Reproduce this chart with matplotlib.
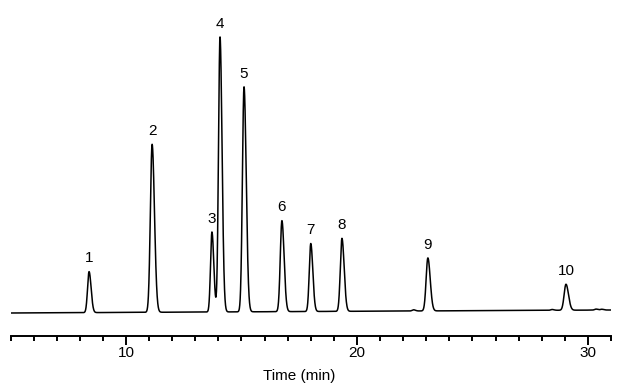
import numpy as np
import matplotlib
matplotlib.use("Agg")
import matplotlib.pyplot as plt

plt.rcParams["font.family"] = ["Liberation Sans", "DejaVu Sans"]

# ── Picos del cromatograma (tiempo en min, altura en unidades relativas) ──
etiquetas = ["1", "2", "3", "4", "5", "6", "7", "8", "9", "10"]
tiempos = [8.40, 11.13, 13.72, 14.07, 15.11, 16.75, 18.00, 19.35, 23.07, 29.05]
alturas = [41, 168, 80, 275, 225, 91, 68, 73, 53, 26]
anchos = [0.065, 0.075, 0.06, 0.065, 0.07, 0.07, 0.065, 0.07, 0.075, 0.08]

# pequeñas perturbaciones de la línea base
ruido_t = [22.45, 28.45, 30.35, 30.6]
ruido_h = [1.2, 0.8, 1.0, 0.8]
deriva = 3.0  # subida total de la línea base entre 5 y 31 min

t = np.linspace(5, 31, 6000)


def pico(t, t0, h, s, cola=1.35):
    sd = np.where(t < t0, s, s * cola)
    return h * np.exp(-0.5 * ((t - t0) / sd) ** 2)


senal = deriva * (t - 5) / 26
for t0, h, s in zip(tiempos, alturas, anchos):
    senal = senal + pico(t, t0, h, s)
for t0, h in zip(ruido_t, ruido_h):
    senal = senal + pico(t, t0, h, 0.06)

fig = plt.figure(figsize=(6.2, 3.84), dpi=100)
ax = fig.add_axes([0.017, 0.125, 0.9685, 0.875])
ax.plot(t, senal, color="black", lw=1.1)

for lab, t0, h in zip(etiquetas, tiempos, alturas):
    ax.annotate(lab, (t0, h + deriva * (t0 - 5) / 26), xytext=(0, 9.5),
                textcoords="offset points", ha="center", va="center", fontsize=11)

ax.set_xlim(5, 31)
ax.set_ylim(-23, 313)
ax.set_xticks([10, 20, 30])
ax.set_xticks(np.arange(5, 32, 1), minor=True)
ax.set_yticks([])
for lado in ("left", "right", "top"):
    ax.spines[lado].set_visible(False)
ax.spines["bottom"].set_linewidth(1.4)
ax.tick_params(axis="x", which="major", length=6.5, width=1.4, pad=1, labelsize=11)
ax.tick_params(axis="x", which="minor", length=3.6, width=1.4)
ax.set_xlabel("Time (min)", fontsize=11)
ax.xaxis.set_label_coords(0.481, -0.099)
ax.patch.set_alpha(0)

fig.savefig("out.png", dpi=100)
